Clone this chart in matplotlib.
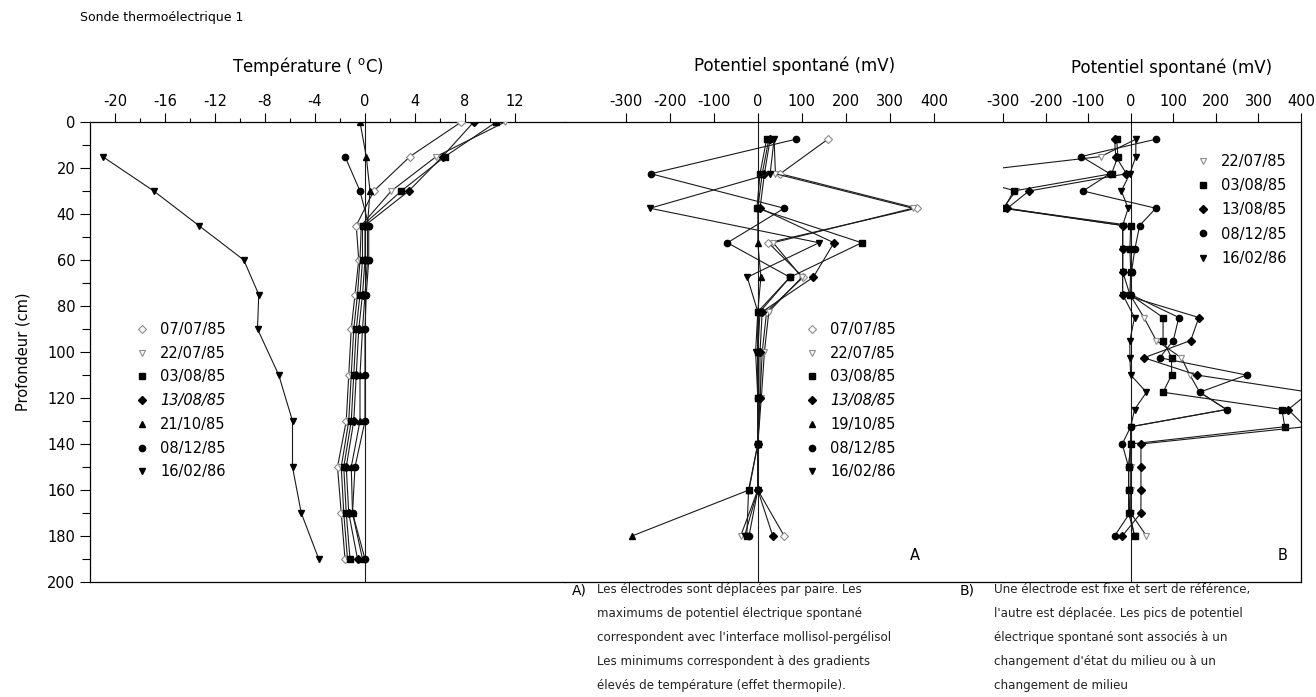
import numpy as np
import matplotlib
matplotlib.use('Agg')
import matplotlib.pyplot as plt
from matplotlib.lines import Line2D
from matplotlib.ticker import FixedLocator

# ---------------- DATA ----------------
depth_T = [0, 15, 30, 45, 60, 75, 90, 110, 130, 150, 170, 190]
T_070785 = [7.7, 3.6, 0.7, -0.7, -0.5, -0.8, -1.1, -1.3, -1.5, -2.2, -1.9, -1.6]
T_220785 = [11.2, 5.7, 2.1, -0.3, -0.4, -0.6, -0.9, -1.1, -1.3, -1.9, -1.7, -1.4]
T_030885 = [10.5, 6.4, 2.9, -0.2, -0.2, -0.4, -0.7, -0.9, -1.1, -1.7, -1.5, -1.2]
T_130885 = [8.7, 6.2, 3.5, 0.0, 0.0, -0.2, -0.5, -0.7, -0.9, -1.5, -1.3, -0.6]
T_211085 = [-0.4, 0.1, 0.4, 0.2, 0.2, 0.0, -0.2, -0.4, -0.4, -1.1, -1.0, -0.2]
T_081285 = [np.nan, -1.6, -0.4, 0.3, 0.3, 0.1, 0.0, 0.0, 0.0, -0.8, -1.0, 0.0]
T_160286 = [np.nan, -21.0, -16.9, -13.3, -9.7, -8.5, -8.6, -6.9, -5.8, -5.8, -5.1, -3.7]

depth_A = [7.5, 22.5, 37.5, 52.5, 67.5, 82.5, 100, 120, 140, 160, 180]
A_070785 = [159, 51, 361, 24, 103, 20, 10, 5, 0, 0, 60]
A_220785 = [37, 40, 352, 35, 100, 25, 15, 8, 0, 0, -39]
A_030885 = [20, 5, -2, 236, 73, 0, 0, 0, 0, -21, -25]
A_130885 = [28, 15, 5, 173, 126, 10, 5, 5, 0, 0, 34]
A_191085 = [25, 10, 0, 0, 7, 0, 0, 0, 0, -20, -286]
A_081285 = [86, -243, 60, -69, 73, 5, 0, 0, 0, 0, -20]
A_160286 = [37, 28, -245, 139, -24, 0, -5, 0, 0, 0, -30]

depth_B = [7.5, 15, 22.5, 30, 37.5, 45, 55, 65, 75, 85, 95, 102.5, 110,
           117.5, 125, 132.5, 140, 150, 160, 170, 180]
B_220785 = [12, -70, -420, -270, -300, -19, -19, -19, -2, 31, 60, 119, 139,
            162, 225, 0, 0, 0, 0, 0, 37]
B_030885 = [-33, -30, -45, -275, -297, 0, -2, 0, -2, 76, 76, 96, 96,
            76, 355, 362, 0, -5, -5, -5, 9]
B_130885 = [-38, -35, -10, -239, -290, -19, -19, -19, -19, 160, 141, 31, 155,
            420, 370, 410, 24, 24, 24, 24, -20]
B_081285 = [59, -116, -49, -112, 59, 21, 10, 2, 0, 113, 100, 68, 272,
            162, 225, 0, -20, -5, -5, -2, -38]
B_160286 = [12, 12, -2, -22, -6, -19, -19, -19, -19, 9, -2, -2, 0,
            37, 9, 0, 0, -5, -5, -2, 9]

ticks_T = [-20, -16, -12, -8, -4, 0, 4, 8, 12]
minor_T = [-18, -14, -10, -6, -2, 2, 6, 10]
ticks_SP = [-300, -200, -100, 0, 100, 200, 300, 400]
ticks_depth = list(range(0, 201, 20))
minor_depth = list(range(10, 200, 20))

# ---------------- STYLE ----------------
plt.rcParams['font.family'] = ['DejaVu Sans']
plt.rcParams['axes.unicode_minus'] = False

GREY = '#8c8c8c'
styles = {
    '07/07/85': dict(marker='D', mfc='white', mec=GREY, ms=3.8, mew=0.8),
    '22/07/85': dict(marker='v', mfc='white', mec=GREY, ms=4.5, mew=0.8),
    '03/08/85': dict(marker='s', mfc='black', mec='black', ms=4.5),
    '13/08/85': dict(marker='D', mfc='black', mec='black', ms=3.6),
    '21/10/85': dict(marker='^', mfc='black', mec='black', ms=3.8),
    '19/10/85': dict(marker='^', mfc='black', mec='black', ms=3.8),
    '08/12/85': dict(marker='o', mfc='black', mec='black', ms=4.5),
    '16/02/86': dict(marker='v', mfc='black', mec='black', ms=4.2),
}
LINE = dict(color='#1a1a1a', lw=0.8)

W, H = 1316, 697
fig = plt.figure(figsize=(W / 100, H / 100), dpi=100)


def ax_at(x0, x1, y0=122, y1=582):
    return fig.add_axes([x0 / W, 1 - y1 / H, (x1 - x0) / W, (y1 - y0) / H])


axT = ax_at(90, 565)
axA = ax_at(565, 1003)
axB = ax_at(1003, 1301)

for ax in (axT, axA, axB):
    ax.set_ylim(200, 0)
    ax.xaxis.set_ticks_position('top')
    ax.tick_params(axis='x', which='major', direction='out', length=6.5,
                   width=0.8, pad=3, labelsize=10.5)
    ax.tick_params(axis='x', which='minor', direction='out', length=3,
                   width=0.8)
    for s in ax.spines.values():
        s.set_linewidth(0.9)
    ax.axvline(0, color='#1a1a1a', lw=0.8, zorder=1)

# Left (temperature) panel
axT.set_xlim(-22, 16)
axT.set_xticks(ticks_T)
axT.set_xticklabels([str(t) for t in ticks_T])
axT.xaxis.set_minor_locator(FixedLocator(minor_T))
axT.set_yticks(ticks_depth)
axT.set_yticklabels([str(t) for t in ticks_depth])
axT.yaxis.set_minor_locator(FixedLocator(minor_depth))
axT.tick_params(axis='y', which='major', direction='out', length=7.5,
                width=0.8, pad=3, labelsize=10.5)
axT.tick_params(axis='y', which='minor', direction='out', length=5.5,
                width=0.8)
axT.spines['right'].set_visible(False)
axT.set_ylabel('Profondeur (cm)', fontsize=10.5, labelpad=12)

series_T = [('07/07/85', T_070785), ('22/07/85', T_220785),
            ('03/08/85', T_030885), ('13/08/85', T_130885),
            ('21/10/85', T_211085), ('08/12/85', T_081285),
            ('16/02/86', T_160286)]
for lab, vals in series_T:
    axT.plot(vals, depth_T, **LINE, **styles[lab], zorder=3)

# Middle panel (A)
axA.set_xlim(-438, 557)
axA.set_xticks(ticks_SP)
axA.set_xticklabels([str(t) for t in ticks_SP])
axA.tick_params(axis='y', left=False, labelleft=False)
axA.spines['left'].set_visible(False)
axA.spines['right'].set_visible(False)
series_A = [('07/07/85', A_070785), ('22/07/85', A_220785),
            ('03/08/85', A_030885), ('13/08/85', A_130885),
            ('19/10/85', A_191085), ('08/12/85', A_081285),
            ('16/02/86', A_160286)]
for lab, vals in series_A:
    axA.plot(vals, depth_A, **LINE, **styles[lab], zorder=3)

# Right panel (B)
axB.set_xlim(-300, 400)
axB.set_xticks(ticks_SP)
axB.set_xticklabels([str(t) for t in ticks_SP])
axB.tick_params(axis='y', left=False, labelleft=False)
axB.spines['left'].set_visible(False)
series_B = [('22/07/85', B_220785), ('03/08/85', B_030885),
            ('13/08/85', B_130885), ('08/12/85', B_081285),
            ('16/02/86', B_160286)]
for lab, vals in series_B:
    axB.plot(vals, depth_B, **LINE, **styles[lab], zorder=3)

# ---------------- LEGENDS ----------------
FS = 10.5
FS_PX = FS * 100 / 72


def add_legend(ax, labels, marker_x, first_y, spacing, italic=None):
    handles = [Line2D([], [], ls='none', **styles[l]) for l in labels]
    left = marker_x - 0.5 * FS_PX
    top = first_y - 0.62 * FS_PX
    leg = ax.legend(handles, labels, loc='upper left',
                    bbox_to_anchor=(left / W, 1 - top / H),
                    bbox_transform=fig.transFigure, frameon=False,
                    fontsize=FS, handlelength=1.0, handletextpad=0.75,
                    borderpad=0, borderaxespad=0, labelspacing=spacing)
    if italic is not None:
        leg.get_texts()[italic].set_style('italic')
    return leg


add_legend(axT, [s[0] for s in series_T], 142, 331, 0.6, italic=3)
add_legend(axA, [s[0] for s in series_A], 812, 331, 0.6, italic=3)
add_legend(axB, [s[0] for s in series_B], 1203, 163, 0.63)

# ---------------- TEXTS ----------------
fig.text(80 / W, 1 - 18 / H, 'Sonde thermoélectrique 1', fontsize=9,
         ha='left', va='center')
fig.text(308 / W, 1 - 66 / H, 'Température ( $^{\\rm o}$C)', fontsize=12,
         ha='center', va='center')
fig.text(795 / W, 1 - 66 / H, 'Potentiel spontané (mV)', fontsize=12,
         ha='center', va='center')
fig.text(1172 / W, 1 - 68 / H, 'Potentiel spontané (mV)', fontsize=12,
         ha='center', va='center')
fig.text(915 / W, 1 - 556 / H, 'A', fontsize=10.5, ha='center', va='center')
fig.text(1283 / W, 1 - 556 / H, 'B', fontsize=10.5, ha='center', va='center')

lines_A = ["Les électrodes sont déplacées par paire. Les",
           "maximums de potentiel électrique spontané",
           "correspondent avec l'interface mollisol-pergélisol",
           "Les minimums correspondent à des gradients",
           "élevés de température (effet thermopile)."]
lines_B = ["Une électrode est fixe et sert de référence,",
           "l'autre est déplacée. Les pics de potentiel",
           "électrique spontané sont associés à un",
           "changement d'état du milieu ou à un",
           "changement de milieu"]
ys = [590, 614, 638, 662, 686]
fig.text(572 / W, 1 - ys[0] / H, 'A)', fontsize=10, ha='left', va='center')
fig.text(960 / W, 1 - ys[0] / H, 'B)', fontsize=10, ha='left', va='center')
for y, la, lb in zip(ys, lines_A, lines_B):
    fig.text(597 / W, 1 - y / H, la, fontsize=8.6, ha='left', va='center',
             color='#222222')
    fig.text(994 / W, 1 - y / H, lb, fontsize=8.6, ha='left', va='center',
             color='#222222')

fig.savefig('out.png', dpi=100)
